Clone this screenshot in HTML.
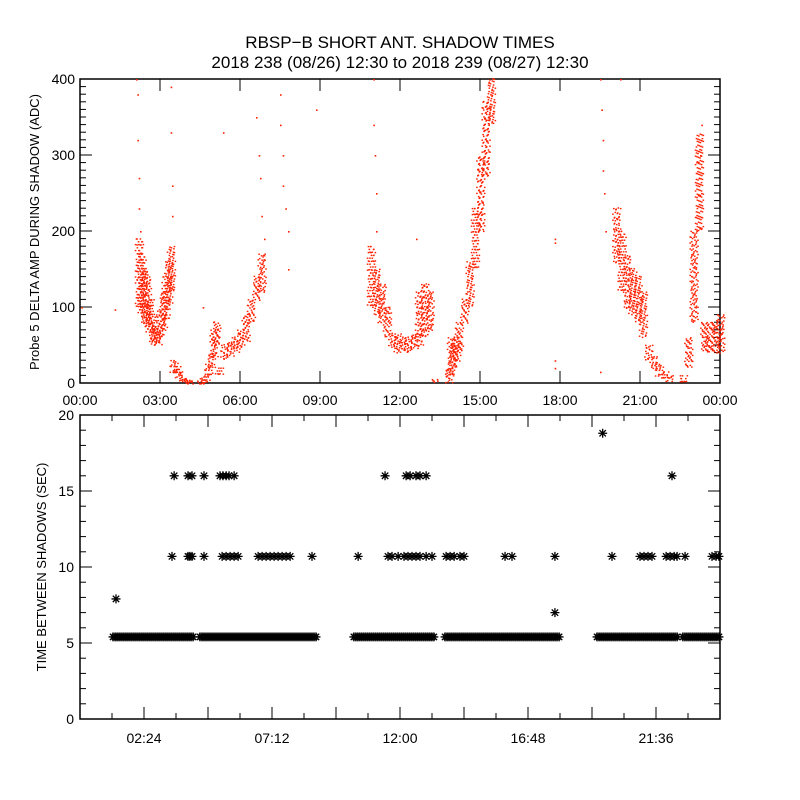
<!DOCTYPE html>
<html><head><meta charset="utf-8"><style>
html,body{margin:0;padding:0;background:#fff;}
svg{display:block;font-family:"Liberation Sans",sans-serif;}
</style></head><body>
<svg id="c" width="800" height="800" viewBox="0 0 800 800">
<text x="400" y="48" text-anchor="middle" font-size="17">RBSP−B SHORT ANT. SHADOW TIMES</text>
<text x="400" y="68" text-anchor="middle" font-size="17">2018 238 (08/26) 12:30 to 2018 239 (08/27) 12:30</text>
<text transform="translate(39,232) rotate(-90)" text-anchor="middle" font-size="13">Probe 5 DELTA AMP DURING SHADOW (ADC)</text>
<text transform="translate(46,567) rotate(-90)" text-anchor="middle" font-size="13">TIME BETWEEN SHADOWS (SEC)</text>
<g id="topPanel"></g>
<g id="botPanel"></g>
</svg>
<script>
// ---- top panel data ----
const bandHours=[2.2,2.3,2.4,2.5,2.6,2.7,2.8,2.9,3.0,3.1,3.2,3.3,3.4,3.5,3.6,3.7,3.8,3.9,4.0,4.1,4.5,4.6,4.7,4.8,4.9,5.0,5.1,5.2,5.4,5.6,5.8,6.0,6.2,6.4,6.6,6.8,10.9,11.1,11.3,11.5,11.7,11.9,12.1,12.3,12.5,12.7,12.9,13.1,13.3,13.8,13.9,14.0,14.1,14.2,14.4,14.6,14.8,15.0,15.2,15.4,20.1,20.3,20.5,20.7,20.9,21.1,21.3,21.5,21.7,21.9,22.1,22.6,22.8,23.0,23.2,23.4,23.6,23.8,24.0];
const bandLow=[100,90,80,75,65,55,50,50,60,70,85,100,120,15,12,8,4,2,1,0,0,0,3,8,20,35,50,10,30,35,40,45,55,80,110,120,100,90,80,60,45,40,40,40,45,50,60,70,0,0,10,20,30,40,80,100,150,200,270,340,160,120,100,90,80,60,30,20,10,5,2,0,20,80,200,40,40,40,40];
const bandHigh=[190,170,150,140,110,90,75,70,95,120,140,160,180,30,22,15,10,6,4,3,3,6,12,25,40,70,80,20,50,55,60,70,90,110,140,170,180,150,130,100,65,65,60,60,65,120,130,120,5,20,60,50,60,80,110,160,230,300,370,400,230,200,170,150,140,120,50,35,25,15,10,10,60,200,330,80,80,80,90];
const sparseHours=[2.1,2.15,2.15,2.2,2.2,2.25,3.4,3.4,3.45,3.45,5.36,6.6,6.7,6.75,6.8,6.9,7.5,7.5,7.6,7.6,7.7,7.8,7.8,8.85,11.0,11.0,11.05,11.1,11.1,12.6,17.8,17.8,17.8,17.8,19.5,19.55,19.6,19.6,19.65,19.7,19.5,20.25,23.3,23.25,23.2,1.3,0.05,4.6];
const sparseVals=[400,380,320,270,230,200,390,330,260,220,330,350,300,270,220,190,380,340,300,260,230,200,150,360,400,340,300,250,200,190,190,185,30,20,400,360,320,280,250,200,15,400,340,300,270,97,100,100];
const topYTicks=[0,100,200,300,400];
const topXLabels=["00:00","03:00","06:00","09:00","12:00","15:00","18:00","21:00","00:00"];
// ---- bottom panel data ----
const runStart=[1.24,4.5,10.27,13.69,19.39,22.61];
const runEnd=[4.24,8.85,13.31,18.0,22.43,24.0];
const runVal=5.4;
const row10Hours=[3.45,4.05,4.12,4.2,4.65,5.33,5.48,5.63,5.78,5.93,6.68,6.83,6.98,7.13,7.28,7.43,7.58,7.73,7.88,8.7,10.43,11.55,11.7,11.93,12.15,12.3,12.45,12.6,12.75,12.98,13.2,13.73,13.88,14.03,14.25,14.4,15.94,16.2,17.81,19.95,21.0,21.15,21.3,21.45,21.98,22.13,22.28,22.39,22.69,23.7,23.85,23.96];
const row10Val=10.7;
const row16Hours=[3.53,4.05,4.2,4.65,5.25,5.36,5.48,5.59,5.78,11.44,12.23,12.38,12.6,12.75,12.98,22.2];
const row16Val=16.0;
const otherHours=[1.35,17.81,19.6];
const otherVals=[7.9,7.0,18.8];
const botYTicks=[0,5,10,15,20];
const botXLabels=["02:24","07:12","12:00","16:48","21:36"];
const botXLabelHours=[2.4,7.2,12,16.8,21.6];

const NS="http://www.w3.org/2000/svg";
function mk(p,tag,a){const e=document.createElementNS(NS,tag);for(const k in a)e.setAttribute(k,a[k]);p.appendChild(e);return e;}
const L=80,R=720;
const xs=h=>L+(R-L)*h/24;
const T1=79,B1=383; const ys1=v=>B1-(B1-T1)*v/400;
const T2=415,B2=719; const ys2=v=>B2-(B2-T2)*v/20;
const topG=document.getElementById('topPanel'), botG=document.getElementById('botPanel');

let fr=mk(topG,'rect',{x:L,y:T1,width:R-L,height:B1-T1,fill:'none',stroke:'#000','stroke-width':1.5});


for(let v=0;v<=400;v+=10){const major=v%100===0;const len=major?12:6;
 mk(topG,'line',{x1:L,x2:L+len,y1:ys1(v),y2:ys1(v),stroke:'#000'});
 mk(topG,'line',{x1:R,x2:R-len,y1:ys1(v),y2:ys1(v),stroke:'#000'});}
topYTicks.forEach(v=>{const t=mk(topG,'text',{x:L-5,y:ys1(v)+5,'text-anchor':'end','font-size':14});t.textContent=v;
 
 });
topXLabels.forEach((s,i)=>{const x=xs(i*3);
 mk(topG,'line',{x1:x,x2:x,y1:B1,y2:B1-12,stroke:'#000'});mk(topG,'line',{x1:x,x2:x,y1:T1,y2:T1+12,stroke:'#000'});
 const t=mk(topG,'text',{x:x,y:B1+22,'text-anchor':'middle','font-size':14});t.textContent=s;
 
 });
const pts=mk(topG,'g',{fill:'#ff2000'});


bandHours.forEach((h,i)=>{const cx=xs(h);const yTop=ys1(bandHigh[i]),yBot=ys1(bandLow[i]);
 let j=0;for(let dx=-3;dx<=3;dx+=1.5){for(let y=yTop;y<=yBot+0.1;y+=2.2){j++;if((j*7+i*3)%5<3)mk(pts,'rect',{x:cx+dx+((j%3)-1)*0.9,y:y+((j%4)-1.5)*0.6,width:1.6,height:1.4});}}});
sparseHours.forEach((h,i)=>{mk(pts,'rect',{x:xs(h),y:ys1(sparseVals[i]),width:1.6,height:1.6});});

fr=mk(botG,'rect',{x:L,y:T2,width:R-L,height:B2-T2,fill:'none',stroke:'#000','stroke-width':1.5});


for(let v=0;v<=20;v+=1){const major=v%5===0;const len=major?12:6;
 mk(botG,'line',{x1:L,x2:L+len,y1:ys2(v),y2:ys2(v),stroke:'#000'});
 mk(botG,'line',{x1:R,x2:R-len,y1:ys2(v),y2:ys2(v),stroke:'#000'});}
botYTicks.forEach(v=>{const t=mk(botG,'text',{x:L-6,y:ys2(v)+5,'text-anchor':'end','font-size':14});t.textContent=v;
 
 });
for(let k=1;k<20;k++){const h=k*1.2;const x=xs(h);const major=(k%2===0);const len=major?12:6;
 mk(botG,'line',{x1:x,x2:x,y1:B2,y2:B2-len,stroke:'#000'});mk(botG,'line',{x1:x,x2:x,y1:T2,y2:T2+len,stroke:'#000'});}
botXLabels.forEach((s,i)=>{const t=mk(botG,'text',{x:xs(botXLabelHours[i]),y:B2+24,'text-anchor':'middle','font-size':14});t.textContent=s;
 
 });
const stars=mk(botG,'g',{stroke:'#000','stroke-width':1.3});


function star(h,v){const x=xs(h),y=ys2(v),r=4.5,d=3.2;
 mk(stars,'path',{d:`M${x-r} ${y}H${x+r}M${x} ${y-r}V${y+r}M${x-d} ${y-d}L${x+d} ${y+d}M${x-d} ${y+d}L${x+d} ${y-d}`});}
runStart.forEach((s,i)=>{for(let x=xs(s);x<=xs(runEnd[i])+0.1;x+=2)star((x-L)*24/(R-L),runVal);});
row10Hours.forEach(h=>star(h,row10Val));
row16Hours.forEach(h=>star(h,row16Val));
otherHours.forEach((h,i)=>star(h,otherVals[i]));
</script>
</body></html>
